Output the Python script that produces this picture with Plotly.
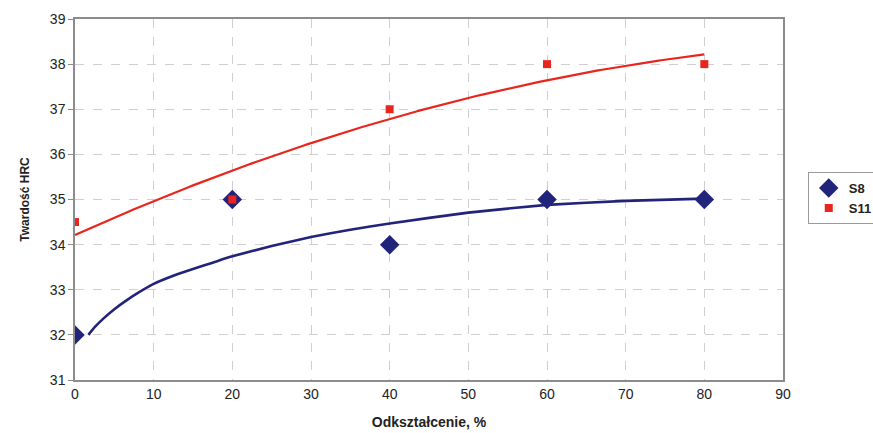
import numpy as np
import plotly.graph_objects as go

# Measured hardness vs. deformation
deformation = [0, 20, 40, 60, 80]
hrc_s8 = [32, 35, 34, 35, 35]
hrc_s11 = [34.5, 35, 37, 38, 38]

# S8 trend curve (values along the fitted line)
trend_s8_x = [1.7, 2.5, 3.6, 5, 6.5, 8, 10, 12.5, 15, 17.5, 20, 25, 30, 35, 40, 50, 60, 70, 80]
trend_s8_y = [32.0, 32.17, 32.36, 32.57, 32.76, 32.93, 33.13, 33.31, 33.46, 33.6, 33.74,
              33.97, 34.17, 34.33, 34.47, 34.71, 34.88, 34.97, 35.02]

# S11 trend: 2nd order polynomial fitted to the measurements
coef_s11 = np.polyfit(deformation, hrc_s11, 2)
trend_s11_x = np.linspace(0, 80, 161)
trend_s11_y = np.polyval(coef_s11, trend_s11_x)

NAVY = "#22237a"
RED = "#e8261e"
FONT = "Liberation Sans, Arial, sans-serif"

fig = go.Figure()

fig.add_trace(go.Scatter(
    x=trend_s8_x, y=trend_s8_y, mode="lines",
    line=dict(color=NAVY, width=2.6, shape="spline", smoothing=0.4),
    showlegend=False, hoverinfo="skip",
))
fig.add_trace(go.Scatter(
    x=trend_s11_x, y=trend_s11_y, mode="lines",
    line=dict(color=RED, width=2.2),
    showlegend=False, hoverinfo="skip",
))
fig.add_trace(go.Scatter(
    x=deformation, y=hrc_s8, mode="markers", name="S8",
    marker=dict(symbol="diamond", size=15, color=NAVY),
))
fig.add_trace(go.Scatter(
    x=deformation, y=hrc_s11, mode="markers", name="S11",
    marker=dict(symbol="square", size=8, color=RED),
))

fig.update_layout(
    width=873, height=433,
    margin=dict(l=75, r=90, t=19, b=53, autoexpand=False),
    paper_bgcolor="white", plot_bgcolor="white",
    font=dict(family=FONT, size=14, color="#222222"),
    legend=dict(
        x=1.035, y=0.576, xanchor="left", yanchor="top",
        bordercolor="#9a9a9a", borderwidth=1,
        font=dict(family=FONT, size=13, color="#222222", weight="bold"),
        itemwidth=30, tracegroupgap=0,
    ),
)

fig.update_xaxes(
    range=[0, 90], dtick=10, tick0=0,
    showgrid=True, gridcolor="#cfcfcf", griddash="dash", gridwidth=1,
    showline=True, linecolor="#8c8c8c", linewidth=1.5, mirror=True,
    zeroline=False, ticks="", ticklen=0,
    tickfont=dict(family=FONT, size=14, color="#222222"),
    title=dict(text="Odkształcenie, %", standoff=17,
               font=dict(family=FONT, size=14, color="#222222", weight="bold")),
)
fig.update_yaxes(
    range=[31, 39], dtick=1, tick0=31,
    showgrid=True, gridcolor="#cfcfcf", griddash="dash", gridwidth=1,
    showline=True, linecolor="#8c8c8c", linewidth=1.5, mirror=True,
    zeroline=False, ticks="outside", ticklen=5, tickcolor="#8c8c8c",
    tickfont=dict(family=FONT, size=14, color="#222222"),
    title=dict(text="Twardość HRC", standoff=18,
               font=dict(family=FONT, size=12, color="#222222", weight="bold")),
)

fig.write_html("out.html")
